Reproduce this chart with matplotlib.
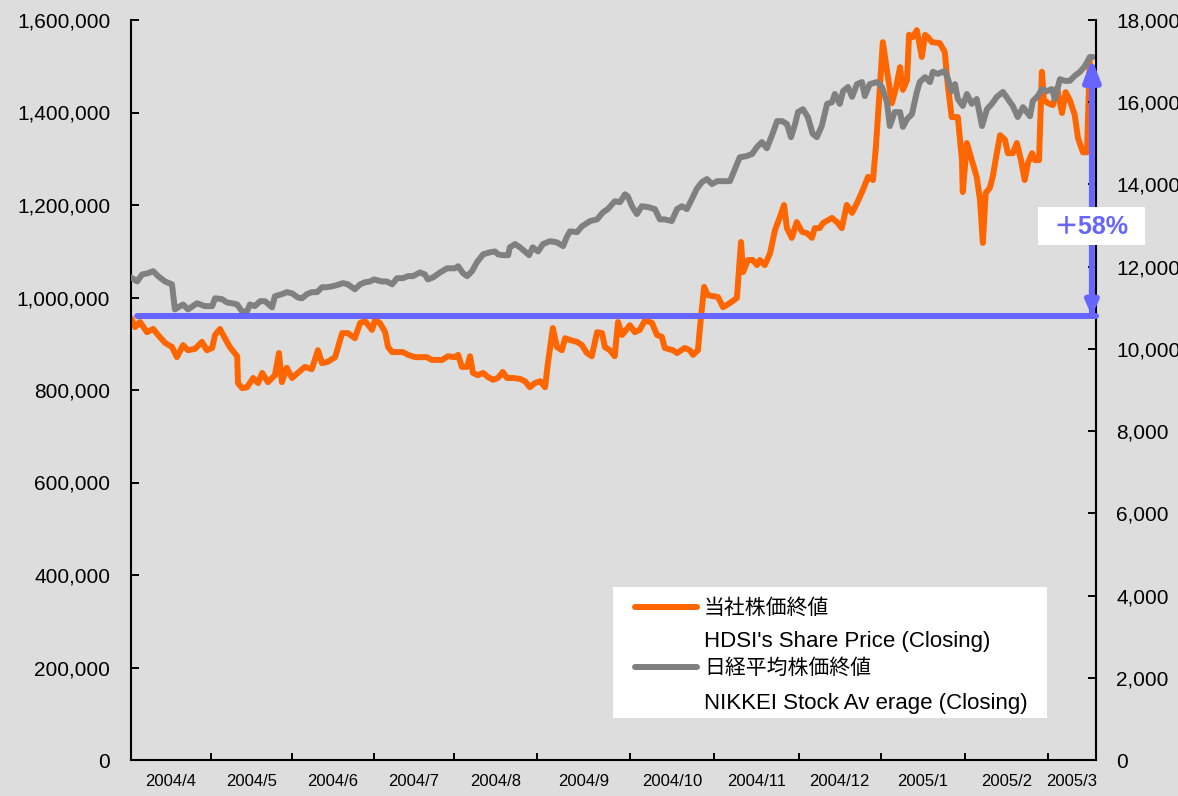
import matplotlib
matplotlib.use("Agg")
import matplotlib.pyplot as plt
from matplotlib.patches import Rectangle
from matplotlib.lines import Line2D
from matplotlib.ticker import FuncFormatter

plt.rcParams['font.family'] = ['Liberation Sans', 'Noto Sans CJK JP', 'DejaVu Sans']

# ---------------- data ----------------
month_labels = ['2004/4', '2004/5', '2004/6', '2004/7', '2004/8', '2004/9',
                '2004/10', '2004/11', '2004/12', '2005/1', '2005/2', '2005/3']
# trading-day index where each month starts, and end of axis
month_start_day = [0, 19.5, 39.3, 59.3, 78.8, 99.0, 121.7, 142.2, 162.9, 182.9, 203.4, 223.7]
axis_end_day = 235.4

hdsi_day = [
    0, 1.0, 2.2, 3.9, 5.4, 6.6, 8.3, 10.0, 11.2, 12.7,
    13.9, 15.6, 17.3, 18.5, 19.8, 20.5, 21.7, 22.9, 24.1, 25.9,
    26.1, 27.1, 28.3, 29.8, 31.0, 32.0, 33.4, 35.1, 36.1, 36.8,
    38.0, 39.3, 40.7, 42.4, 44.1, 45.6, 46.6, 48.0, 49.8, 51.5,
    52.9, 54.6, 55.9, 57.1, 58.8, 59.5, 60.7, 62.0, 62.7, 63.7,
    66.3, 67.6, 69.3, 72.2, 73.4, 75.9, 77.3, 79.0, 79.8, 80.7,
    82.0, 82.7, 83.4, 84.6, 85.9, 87.1, 88.3, 89.5, 90.7, 91.7,
    93.2, 94.9, 96.1, 97.3, 98.5, 99.8, 101.0, 101.7, 102.9, 103.9,
    105.1, 105.9, 107.1, 108.8, 110.0, 111.2, 112.4, 113.7, 114.9, 115.6,
    116.8, 118.0, 118.8, 119.8, 121.7, 122.9, 124.1, 125.4, 127.1, 128.3,
    129.5, 130.2, 132.2, 133.2, 135.1, 136.3, 137.1, 138.3, 138.8, 139.8,
    140.7, 143.2, 144.4, 146.1, 147.8, 148.8, 149.3, 150.5, 151.7, 152.7,
    153.4, 154.6, 155.9, 157.1, 158.3, 159.3, 160.0, 161.2, 162.4, 163.7,
    164.9, 166.1, 166.8, 168.0, 168.8, 171.0, 172.2, 173.4, 174.6, 175.9,
    177.1, 178.3, 179.0, 179.8, 181.0, 181.7, 182.2, 182.9, 183.4, 184.4,
    185.6, 186.6, 187.6, 188.3, 189.3, 189.8, 190.7, 191.7, 192.9, 193.7,
    194.4, 195.4, 197.3, 198.5, 199.3, 200.2, 201.7, 202.7, 202.9, 203.9,
    205.1, 206.3, 207.1, 207.8, 208.5, 209.5, 210.2, 211.2, 212.0, 213.2,
    213.9, 215.1, 216.1, 217.1, 218.0, 218.8, 219.8, 220.5, 221.5, 222.2,
    222.7, 223.7, 224.9, 225.9, 227.1, 228.0, 229.0, 230.2, 231.0, 232.2,
    233.2, 233.9,
]
# HDSI share price, thousand yen
hdsi_price_k = [
    955, 936, 947, 925, 932, 919, 902, 893, 871, 897,
    886, 889, 904, 886, 891, 919, 932, 912, 893, 873,
    815, 804, 806, 826, 815, 837, 817, 832, 880, 817,
    848, 826, 837, 850, 845, 886, 858, 861, 871, 923,
    923, 912, 945, 949, 930, 951, 945, 925, 893, 882,
    882, 876, 871, 871, 865, 865, 873, 871, 876, 850,
    850, 873, 837, 832, 837, 828, 822, 826, 839, 826,
    826, 824, 819, 806, 815, 819, 806, 858, 934, 893,
    886, 912, 908, 904, 897, 880, 873, 925, 923, 893,
    886, 873, 947, 919, 940, 925, 930, 951, 945, 919,
    915, 891, 886, 880, 891, 886, 876, 886, 936, 1023,
    1005, 1001, 979, 988, 999, 1120, 1055, 1081, 1081, 1070,
    1081, 1070, 1096, 1146, 1174, 1200, 1150, 1129, 1163, 1142,
    1139, 1129, 1150, 1150, 1161, 1172, 1163, 1150, 1200, 1183,
    1204, 1228, 1243, 1261, 1254, 1325, 1390, 1485, 1552, 1492,
    1420, 1453, 1498, 1449, 1470, 1568, 1563, 1578, 1520, 1568,
    1563, 1552, 1550, 1531, 1455, 1390, 1390, 1297, 1228, 1334,
    1297, 1261, 1211, 1118, 1226, 1237, 1261, 1312, 1351, 1341,
    1312, 1312, 1334, 1297, 1254, 1291, 1312, 1297, 1297, 1488,
    1427, 1420, 1416, 1453, 1399, 1444, 1427, 1395, 1345, 1314,
    1314, 1518,
]

nikkei_day = [
    0, 1.5, 2.7, 4.1, 5.4, 6.6, 8.3, 10.0, 10.7, 11.5,
    12.7, 13.9, 16.1, 18.0, 19.8, 20.5, 22.2, 23.4, 24.6, 25.9,
    27.1, 28.3, 29.0, 30.2, 31.5, 32.7, 34.4, 35.1, 36.8, 38.0,
    39.3, 40.7, 41.7, 42.9, 44.1, 45.4, 46.6, 47.8, 49.0, 50.2,
    51.7, 52.9, 54.6, 55.9, 57.1, 58.3, 59.3, 61.2, 62.4, 63.7,
    64.9, 66.3, 67.6, 68.8, 70.5, 71.7, 72.4, 73.7, 75.4, 77.1,
    79.0, 79.8, 81.0, 82.0, 83.2, 84.4, 85.9, 87.6, 88.8, 89.5,
    90.7, 92.0, 92.4, 93.7, 94.9, 96.1, 97.1, 98.0, 99.3, 100.5,
    102.2, 103.9, 105.4, 106.3, 107.1, 108.8, 110.0, 112.0, 113.7, 115.1,
    116.3, 118.0, 119.3, 120.5, 121.2, 122.2, 123.4, 124.6, 126.1, 127.8,
    129.0, 130.2, 131.9, 133.2, 134.4, 135.6, 136.8, 138.0, 139.3, 140.5,
    141.7, 143.0, 144.9, 146.1, 147.3, 148.5, 150.2, 151.5, 152.7, 153.9,
    155.1, 156.3, 157.6, 158.8, 160.0, 161.0, 162.0, 162.7, 163.9, 165.1,
    166.3, 167.3, 168.5, 169.8, 171.0, 171.7, 172.9, 173.7, 174.9, 175.9,
    177.1, 178.3, 179.0, 180.2, 182.0, 183.2, 184.4, 185.1, 186.3, 187.6,
    188.3, 189.3, 190.5, 191.7, 192.4, 193.7, 194.9, 195.6, 196.8, 198.5,
    199.3, 200.2, 201.0, 201.7, 202.9, 203.9, 205.1, 206.3, 207.6, 208.8,
    210.0, 211.2, 212.7, 213.9, 215.1, 216.3, 217.6, 219.3, 220.0, 221.2,
    222.2, 223.4, 224.6, 225.4, 226.6, 227.8, 229.0, 230.2, 231.5, 232.7,
    233.9, 234.6,
]
nikkei_close = [
    11740, 11640, 11810, 11840, 11890, 11770, 11640, 11570, 10960, 11010,
    11080, 10960, 11110, 11040, 11040, 11230, 11210, 11130, 11110, 11080,
    10910, 10910, 11080, 11040, 11160, 11160, 11010, 11280, 11330, 11380,
    11350, 11250, 11230, 11330, 11380, 11380, 11500, 11500, 11520, 11550,
    11600, 11570, 11450, 11570, 11620, 11640, 11690, 11640, 11640, 11570,
    11720, 11720, 11770, 11770, 11860, 11810, 11690, 11740, 11860, 11960,
    11960, 12010, 11840, 11770, 11890, 12110, 12300, 12350, 12370, 12300,
    12280, 12280, 12470, 12550, 12470, 12370, 12280, 12470, 12370, 12550,
    12620, 12590, 12500, 12720, 12860, 12840, 12980, 13110, 13150, 13320,
    13400, 13590, 13570, 13760, 13710, 13470, 13280, 13470, 13450, 13400,
    13150, 13150, 13110, 13400, 13470, 13400, 13640, 13890, 14060, 14130,
    14010, 14080, 14080, 14080, 14370, 14660, 14690, 14740, 14910, 15030,
    14880, 15180, 15540, 15540, 15470, 15150, 15470, 15760, 15830, 15640,
    15230, 15150, 15420, 15960, 16000, 16200, 15960, 16270, 16370, 16130,
    16440, 16490, 16150, 16440, 16490, 16370, 16000, 15420, 15760, 15760,
    15400, 15590, 15710, 16250, 16490, 16610, 16490, 16740, 16690, 16760,
    16560, 16270, 16440, 16080, 15910, 16200, 15960, 16080, 15420, 15830,
    15960, 16130, 16250, 16080, 15910, 15640, 15880, 15660, 16030, 16150,
    16320, 16270, 16320, 16080, 16560, 16520, 16520, 16640, 16740, 16880,
    17100, 17100,
]

base_price = 960000          # level of horizontal reference line (yen)
growth_pct = 58              # annotated rise
left_ticks = list(range(0, 1600001, 200000))
right_ticks = list(range(0, 18001, 2000))

legend_jp = ['当社株価終値', '日経平均株価終値']
legend_en = ["HDSI's Share Price (Closing)", 'NIKKEI Stock Av erage (Closing)']

# ---------------- style ----------------
W, H = 1178, 796
BG = '#DDDDDD'
ORANGE = '#FF6600'
GRAY = '#808080'
BLUE = '#6666FF'
LW = 4.3

def fx(px):
    return px / W

def fy(py):
    return 1 - py / H

fig = plt.figure(figsize=(W / 100, H / 100), dpi=100, facecolor=BG)
ax = fig.add_axes([fx(131), fy(760), (1096 - 131) / W, (760 - 20) / H])
ax.set_facecolor(BG)
ax2 = ax.twinx()

hdsi_price = [v * 1000 for v in hdsi_price_k]
ax.plot(hdsi_day, hdsi_price, color=ORANGE, lw=LW,
        solid_joinstyle='round', solid_capstyle='round', zorder=2)
ax2.plot(nikkei_day, nikkei_close, color=GRAY, lw=LW,
         solid_joinstyle='round', solid_capstyle='round', zorder=2)

ax.set_xlim(0, axis_end_day)
ax.set_ylim(0, 1600000)
ax2.set_ylim(0, 18000)

comma = FuncFormatter(lambda v, p: f'{int(v):,}')
ax.set_yticks(left_ticks)
ax.yaxis.set_major_formatter(comma)
ax2.set_yticks(right_ticks)
ax2.yaxis.set_major_formatter(comma)

bounds = month_start_day + [axis_end_day]
label_pos = [(bounds[i] + bounds[i + 1]) / 2 for i in range(len(month_labels))]
ax.set_xticks(month_start_day[1:])
ax.set_xticklabels([])
ax.set_xticks(label_pos, minor=True)
ax.set_xticklabels(month_labels, minor=True)
ax.tick_params(axis='x', which='major', direction='in', length=5, width=1.4, labelbottom=False)
ax.tick_params(axis='x', which='minor', length=0, labelsize=12, pad=10)
ax.tick_params(axis='y', direction='in', length=5.5, width=1.4, labelsize=15, pad=15)
ax2.tick_params(axis='y', direction='in', length=5.5, width=1.4, labelsize=15, pad=14.5)

for s in ['top', 'right']:
    ax.spines[s].set_visible(False)
for s in ['top', 'left', 'bottom']:
    ax2.spines[s].set_visible(False)
for sp in [ax.spines['left'], ax.spines['bottom'], ax2.spines['right']]:
    sp.set_linewidth(1.5)

# reference line and growth arrow (drawn on top axes, in left-axis units)
arrow_x = 234.4
top_price = base_price * (1 + growth_pct / 100)
ax2.annotate('', xy=(axis_end_day, base_price), xytext=(1.5, base_price),
             xycoords=ax.transData, textcoords=ax.transData,
             arrowprops=dict(arrowstyle='-', color=BLUE, lw=LW, shrinkA=0, shrinkB=0),
             zorder=4)
ax2.annotate('', xy=(arrow_x, top_price), xytext=(arrow_x, base_price),
             xycoords=ax.transData, textcoords=ax.transData,
             arrowprops=dict(arrowstyle='-|>,head_length=0.65,head_width=0.25',
                             color=BLUE, lw=LW, shrinkA=0, shrinkB=0, mutation_scale=20),
             zorder=4)
ax2.annotate('', xy=(arrow_x, base_price), xytext=(arrow_x, base_price + 60000),
             xycoords=ax.transData, textcoords=ax.transData,
             arrowprops=dict(arrowstyle='-|>,head_length=0.4,head_width=0.18',
                             color=BLUE, lw=LW, shrinkA=0, shrinkB=0, mutation_scale=20),
             zorder=4)

fig.add_artist(Rectangle((fx(1038), fy(245)), 107 / W, 38 / H, transform=fig.transFigure,
                         facecolor='white', edgecolor='none', zorder=5))
fig.text(fx(1091), fy(227), f'＋{growth_pct}%', ha='center', va='center',
         fontsize=18, fontweight='bold', color=BLUE, zorder=6)

# legend (manual, to match the original layout)
fig.add_artist(Rectangle((fx(613), fy(718)), 434 / W, 131 / H, transform=fig.transFigure,
                         facecolor='white', edgecolor='none', zorder=5))
for col, yl in [(ORANGE, 607), (GRAY, 667)]:
    fig.add_artist(Line2D([fx(635), fx(697)], [fy(yl), fy(yl)], transform=fig.transFigure,
                          color=col, lw=LW, solid_capstyle='round', zorder=6))
for txt, yl, fs in [(legend_jp[0], 608, 15), (legend_en[0], 642, 16),
                    (legend_jp[1], 668, 15), (legend_en[1], 703, 16)]:
    fig.text(fx(704), fy(yl), txt, ha='left', va='center', fontsize=fs, color='black', zorder=6)

fig.savefig('out.png', dpi=100, facecolor=BG)
